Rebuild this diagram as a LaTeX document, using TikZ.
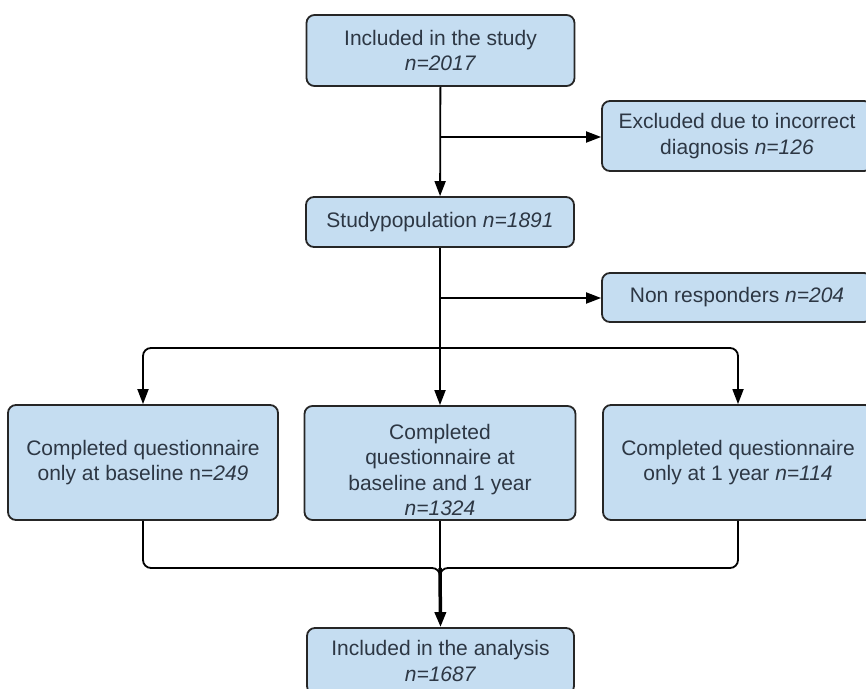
\documentclass[tikz,border=0pt]{standalone}
\usepackage{fontspec}
\setmainfont{Liberation Sans}
\usetikzlibrary{arrows.meta}
\definecolor{boxfill}{RGB}{197,221,241}
\definecolor{boxtext}{RGB}{45,55,68}
\begin{document}
\begin{tikzpicture}[x=1pt,y=-1pt,
	box/.style={draw=black!85,line width=1.8pt,fill=boxfill,rounded corners=8pt,
		text=boxtext,align=center,inner sep=0pt,font=\fontsize{21}{25.5}\selectfont},
	line/.style={draw,line width=1.8pt},
	arrow/.style={line,-{Triangle[length=15pt,width=11pt]}}]

\useasboundingbox (0,0) rectangle (866,688);
\clip (0,0) rectangle (866,688);

\node[box,minimum width=268,minimum height=71] (study) at (440.5,50.5)	{Included in the study\\ \textit{n=2017}};
\node[box,minimum width=270,minimum height=70] (excl) at (737,136)	{Excluded due to incorrect\\ diagnosis \textit{n=126}};
\node[box,minimum width=268,minimum height=50] (pop) at (440,222)	{Studypopulation \textit{n=1891}};
\node[box,minimum width=270,minimum height=49] (nonresp) at (737,297.5)	{Non responders \textit{n=204}};

\node[box,minimum width=270,minimum height=115] (base) at (143,462.5)	{Completed questionnaire\\ only at baseline n=\textit{249}};
\node[box,minimum width=271,minimum height=114] (both) at (440,463)	{\rule{0pt}{29pt}Completed\\ questionnaire at\\ baseline and 1 year\\ \textit{n=1324}};
\node[box,minimum width=270,minimum height=115] (year) at (738,462.5)	{Completed questionnaire\\ only at 1 year \textit{n=114}};

\node[box,minimum width=267,minimum height=66] (ana) at (440.5,661)	{Included in the analysis\\ \textit{n=1687}};

\coordinate (b1) at (440,137);
\coordinate (b2) at (440,298);
\coordinate (split) at (440,348);
\coordinate (merge) at (440,568);

\path (study) edge [arrow] (pop);
\path (b1) edge [arrow] (b1 -| excl.west);

\path (pop) edge [line] (split);
\path (b2) edge [arrow] (b2 -| nonresp.west);

\draw[arrow,rounded corners=8pt] (split) -| (base.north);
\draw[arrow] (split) -- (both.north);
\draw[arrow,rounded corners=8pt] (split) -| (year.north);

\draw[line,rounded corners=8pt] (base.south) |- (merge) -- ++(0,12);
\draw[line,rounded corners=8pt] (year.south) |- (merge) -- ++(0,12);
\path (both) edge [line] (merge);
\draw[arrow,line width=3.5pt] (merge) -- (ana.north);

\end{tikzpicture}
\end{document}
